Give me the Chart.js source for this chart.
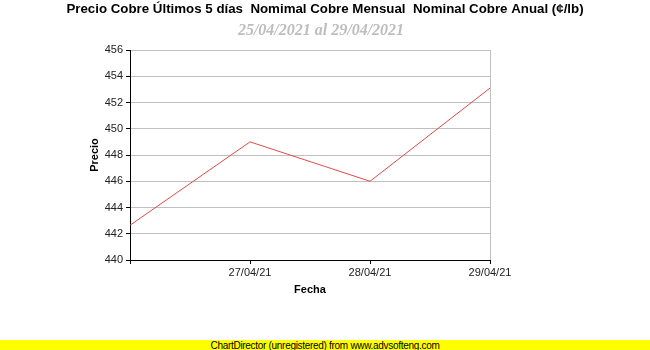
<!DOCTYPE html>
<html>
<head>
<meta charset="utf-8">
<script src="https://cdn.jsdelivr.net/npm/chart.js@4/dist/chart.umd.min.js"></script>
<style>
  html, body { margin: 0; padding: 0; background: #fff; }
  #wrap { position: relative; width: 650px; height: 350px; overflow: hidden; }
  #c { position: absolute; left: 0; top: 0; }
  #footer { position: absolute; left: 0; top: 340px; width: 650px; height: 10px; background: #ffff00;
            text-align: center; font: 10px "Liberation Sans", Arial, sans-serif; line-height: 11px;
            letter-spacing: -0.3px; color: #000; white-space: nowrap; }
</style>
</head>
<body>
<div id="wrap">
  <canvas id="c" width="650" height="350"></canvas>
  <div id="footer">ChartDirector (unregistered) from www.advsofteng.com</div>
</div>
<script>
const titleText = "Precio Cobre Últimos 5 días  Nomimal Cobre Mensual  Nominal Cobre Anual (¢/lb)";
const subtitleText = "25/04/2021 al 29/04/2021";
const dates = ["26/04/21", "27/04/21", "28/04/21", "29/04/21"];
const precio = [442.65, 449.0, 446.0, 453.1];
const yMin = 440, yMax = 456, yStep = 2;

const textPlugin = {
  id: 'texts',
  afterDraw(chart) {
    const ctx = chart.ctx;
    ctx.save();
    ctx.textAlign = 'center';
    ctx.textBaseline = 'middle';
    ctx.fillStyle = '#000';
    ctx.font = 'bold 13.3px "Liberation Sans", Arial, sans-serif';
    ctx.fillText(titleText, 325, 9);
    ctx.fillStyle = '#bdbdbd';
    ctx.font = 'italic bold 16px "Liberation Serif", "Times New Roman", serif';
    ctx.fillText(subtitleText, 321, 31);
    ctx.restore();
  }
};

new Chart(document.getElementById('c'), {
  type: 'line',
  data: {
    labels: dates,
    datasets: [{
      data: precio,
      borderColor: 'rgb(232,72,72)',
      borderWidth: 1,
      pointRadius: 0,
      tension: 0,
      fill: false
    }]
  },
  options: {
    responsive: false,
    animation: false,
    layout: { padding: { left: 84, right: 160, top: 50, bottom: 49 } },
    plugins: { legend: { display: false }, tooltip: { enabled: false } },
    scales: {
      x: {
        type: 'category',
        offset: false,
        afterFit(s) { s.height = 41; },
        grid: {
          color: (c) => (c.index === dates.length - 1 ? '#c0c0c0' : 'rgba(0,0,0,0)'),
          tickColor: '#000',
          tickLength: 4,
          lineWidth: 1
        },
        border: { color: '#000', width: 1 },
        ticks: {
          autoSkip: false, maxRotation: 0, padding: 2,
          color: '#222',
          font: { family: '"Liberation Sans", Arial, sans-serif', size: 11 },
          callback(v, i) { return i === 0 ? '' : dates[i]; }
        },
        title: {
          display: true, text: 'Fecha', color: '#000',
          font: { family: '"Liberation Sans", Arial, sans-serif', size: 11, weight: 'bold' },
          padding: { top: 4, bottom: 4 }
        }
      },
      y: {
        min: yMin, max: yMax,
        afterFit(s) { s.width = 46; },
        grid: { color: '#c0c0c0', tickColor: '#000', tickLength: 4, lineWidth: 1 },
        border: { color: '#000', width: 1 },
        ticks: {
          stepSize: yStep, padding: 3, color: '#222',
          font: { family: '"Liberation Sans", Arial, sans-serif', size: 11 }
        },
        title: {
          display: true, text: 'Precio', color: '#000',
          font: { family: '"Liberation Sans", Arial, sans-serif', size: 11, weight: 'bold' },
          padding: { top: 4, bottom: 4 }
        }
      }
    }
  },
  plugins: [textPlugin]
});
</script>
</body>
</html>
